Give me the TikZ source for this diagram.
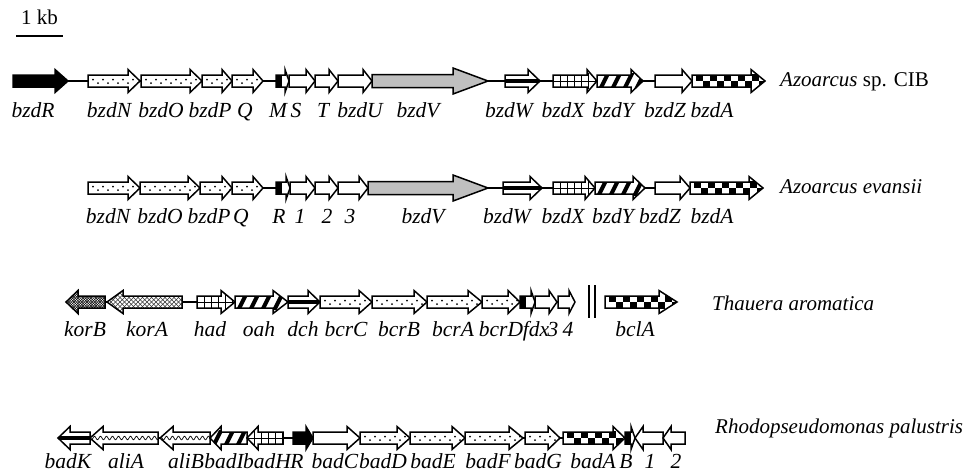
\documentclass[tikz,border=0pt]{standalone}
\usepackage{fontspec}
\setmainfont{Liberation Serif}
\definecolor{vgray}{gray}{0.75}

% body and head half-heights of a gene arrow
\def\gh{6}\def\gH{11.5}
% outline of a gene: start, end, row, head length
\newcommand\rpath[4]{(#1,#3-\gh) -- (#2-#4,#3-\gh) -- (#2-#4,#3-\gH) -- (#2,#3) -- (#2-#4,#3+\gH) -- (#2-#4,#3+\gh) -- (#1,#3+\gh) -- cycle}
\newcommand\lpath[4]{(#2,#3-\gh) -- (#1+#4,#3-\gh) -- (#1+#4,#3-\gH) -- (#1,#3) -- (#1+#4,#3+\gH) -- (#1+#4,#3+\gh) -- (#2,#3+\gh) -- cycle}

% fill patterns (start, end, row)
\newcommand\patwhite[3]{}
\newcommand\patblack[3]{\fill[black] (#1-1,#3-20) rectangle (#2+1,#3+20);}
\newcommand\patgray[3]{\fill[vgray] (#1-1,#3-20) rectangle (#2+1,#3+20);}
\newcommand\patdots[3]{\foreach \k in {0,...,12}{\fill (#1+5+\k*10,#3-1.5) circle[radius=1pt]; \fill (#1+10+\k*10,#3+2) circle[radius=1pt];}}
\newcommand\patgrid[3]{\draw[line width=0.9pt] (#1,#3)--(#2,#3); \foreach \k in {1,...,14}{\draw[line width=0.9pt] (#1+\k*7,#3-8)--(#1+\k*7,#3+8);}}
\newcommand\patdiag[3]{\foreach \k in {0,...,8}{\fill (#1+1+\k*12,#3+8) -- ++(4.5,0) -- ++(8,-16) -- ++(-4.5,0) -- cycle;}}
\newcommand\pathbar[3]{\fill (#1,#3-2) rectangle (#2,#3+2);}
\newcommand\patchecker[3]{\foreach \k in {0,...,6}{\fill (#1+4+\k*14,#3-7) rectangle ++(7,7); \fill (#1+11+\k*14,#3) rectangle ++(7,7);}}
\newcommand\patxdense[3]{\foreach \k in {0,...,40}{\draw[line width=0.5pt] (#1-20+\k*2.6,#3+15) -- ++(30,-30); \draw[line width=0.5pt] (#1-20+\k*2.6,#3-15) -- ++(30,30);}}
\newcommand\patxlight[3]{\foreach \k in {0,...,30}{\draw[line width=0.45pt,black!80] (#1-20+\k*4.5,#3+15) -- ++(30,-30); \draw[line width=0.45pt,black!80] (#1-20+\k*4.5,#3-15) -- ++(30,30);}}
\newcommand\patwave[3]{\draw[line width=0.7pt] plot[domain=#1:#2,samples=90,smooth] (\x,{#3+1.8*sin(\x*60)});}
\newcommand\patsmall[3]{\fill (#1+1,#3-\gh) rectangle (#1+5.5,#3+\gh);}

% one gene: direction (R/L), start, end, row, head length, pattern
\newcommand\gene[6]{%
  \if#1R\def\gp{\rpath{#2}{#3}{#4}{#5}}\else\def\gp{\lpath{#2}{#3}{#4}{#5}}\fi
  \fill[white]\gp;
  \begin{scope}\clip\gp;\csname pat#6\endcsname{#2}{#3}{#4}\end{scope}
  \draw[geneline]\gp;}

\tikzset{
  geneline/.style={line width=1.5pt, line join=miter},
  backbone/.style={line width=1.3pt},
  lab/.style={anchor=base, inner sep=0pt, font=\fontsize{21.5}{24}\selectfont\itshape},
  species/.style={anchor=base west, inner sep=0pt, font=\fontsize{21}{24}\selectfont\itshape},
}

\begin{document}
\begin{tikzpicture}[x=1pt,y=-1pt]
\useasboundingbox (0,0) rectangle (968,472);
\fill[white] (0,0) rectangle (968,472);

% scale bar
\coordinate (sbL) at (16,36);
\coordinate (sbR) at (63,36);
\draw[backbone] (sbL) -- (sbR);
\node[anchor=base, inner sep=0pt, font=\fontsize{21}{24}\selectfont] (sbtext) at (39.5,24) {1 kb};

% ---------- Azoarcus sp. CIB ----------
\coordinate (b1s) at (60,81);
\coordinate (b1e) at (755,81);
\draw[backbone] (b1s) -- (b1e);
\gene{R}{13}{68}{81}{13}{black}
\gene{R}{88}{140}{81}{12}{dots}
\gene{R}{141}{202}{81}{12}{dots}
\gene{R}{202}{232}{81}{10}{dots}
\gene{R}{232}{263}{81}{10}{dots}
\gene{R}{276}{289}{81}{4}{small}
\gene{R}{289}{315}{81}{9}{white}
\gene{R}{315}{338}{81}{9}{white}
\gene{R}{338}{372}{81}{9}{white}
{\def\gh{6.5}\def\gH{13}\gene{R}{372}{488}{81}{35}{gray}}
\gene{R}{505}{540}{81}{12}{hbar}
\gene{R}{553}{597}{81}{10}{grid}
\gene{R}{597}{643}{81}{12}{diag}
\gene{R}{655}{692}{81}{10}{white}
\gene{R}{692}{765}{81}{14}{checker}

\node[lab] (a1) at (33,117) {bzdR};
\node[lab] (a2) at (109,117) {bzdN};
\node[lab] (a3) at (161,117) {bzdO};
\node[lab] (a4) at (210,117) {bzdP};
\node[lab] (a5) at (245,117) {Q};
\node[lab] (a6) at (278,117) {M};
\node[lab] (a7) at (296,117) {S};
\node[lab] (a8) at (323,117) {T};
\node[lab] (a9) at (360,117) {bzdU};
\node[lab] (a10) at (418,117) {bzdV};
\node[lab] (a11) at (509,117) {bzdW};
\node[lab] (a12) at (563,117) {bzdX};
\node[lab] (a13) at (613,117) {bzdY};
\node[lab] (a14) at (665,117) {bzdZ};
\node[lab] (a15) at (712,117) {bzdA};
\node[species] (sp1) at (780,86) {Azoarcus {\upshape sp. CIB}};

% ---------- Azoarcus evansii ----------
\coordinate (b2s) at (95,188);
\coordinate (b2e) at (755,188);
\draw[backbone] (b2s) -- (b2e);
\gene{R}{88}{140}{188}{12}{dots}
\gene{R}{140}{200}{188}{12}{dots}
\gene{R}{200}{232}{188}{10}{dots}
\gene{R}{232}{263}{188}{10}{dots}
\gene{R}{276}{290}{188}{4}{small}
\gene{R}{290}{315}{188}{9}{white}
\gene{R}{315}{338}{188}{9}{white}
\gene{R}{338}{368}{188}{9}{white}
{\def\gh{6.5}\def\gH{13}\gene{R}{368}{488}{188}{35}{gray}}
\gene{R}{503}{542}{188}{12}{hbar}
\gene{R}{553}{595}{188}{10}{grid}
\gene{R}{595}{645}{188}{12}{diag}
\gene{R}{655}{690}{188}{10}{white}
\gene{R}{690}{763}{188}{14}{checker}

\node[lab] (e1) at (108,223) {bzdN};
\node[lab] (e2) at (160,223) {bzdO};
\node[lab] (e3) at (209,223) {bzdP};
\node[lab] (e4) at (241,223) {Q};
\node[lab] (e5) at (279,223) {R};
\node[lab] (e6) at (300,223) {1};
\node[lab] (e7) at (327,223) {2};
\node[lab] (e8) at (350,223) {3};
\node[lab] (e9) at (423,223) {bzdV};
\node[lab] (e10) at (507,223) {bzdW};
\node[lab] (e11) at (563,223) {bzdX};
\node[lab] (e12) at (613,223) {bzdY};
\node[lab] (e13) at (660,223) {bzdZ};
\node[lab] (e14) at (712,223) {bzdA};
\node[species] (sp2) at (780,193) {Azoarcus evansii};

% ---------- Thauera aromatica ----------
\coordinate (b3s) at (70,302);
\coordinate (b3e) at (570,302);
\draw[backbone] (b3s) -- (b3e);
\gene{L}{66}{105}{302}{12}{xdense}
\gene{L}{107}{182}{302}{16}{xlight}
\gene{R}{197}{235}{302}{14}{grid}
\gene{R}{235}{288}{302}{15}{diag}
\gene{R}{288}{320}{302}{12}{hbar}
\gene{R}{320}{372}{302}{13}{dots}
\gene{R}{372}{427}{302}{13}{dots}
\gene{R}{427}{482}{302}{14}{dots}
\gene{R}{482}{520}{302}{12}{dots}
\gene{R}{520}{535}{302}{4}{small}
\gene{R}{535}{557}{302}{8}{white}
\gene{R}{558}{575}{302}{6}{white}
% break in the map
\coordinate (brA1) at (589,285); \coordinate (brA2) at (589,318);
\coordinate (brB1) at (595,285); \coordinate (brB2) at (595,318);
\draw[backbone] (brA1) -- (brA2);
\draw[backbone] (brB1) -- (brB2);
\gene{R}{605}{677}{302}{18}{checker}

\node[lab] (t1) at (85,336) {korB};
\node[lab] (t2) at (147,336) {korA};
\node[lab] (t3) at (210,336) {had};
\node[lab] (t4) at (259,336) {oah};
\node[lab] (t5) at (303,336) {dch};
\node[lab] (t6) at (346,336) {bcrC};
\node[lab] (t7) at (399,336) {bcrB};
\node[lab] (t8) at (453,336) {bcrA};
\node[lab] (t9) at (501,336) {bcrD};
\node[lab] (t10) at (536,336) {fdx};
\node[lab] (t11) at (553,336) {3};
\node[lab] (t12) at (568,336) {4};
\node[lab] (t13) at (635,336) {bclA};
\node[species] (sp3) at (712,310) {Thauera aromatica};

% ---------- Rhodopseudomonas palustris ----------
\coordinate (b4s) at (62,438);
\coordinate (b4e) at (680,438);
\draw[backbone] (b4s) -- (b4e);
\gene{L}{58}{90}{438}{12}{hbar}
\gene{L}{90}{158}{438}{13}{wave}
\gene{L}{160}{210}{438}{13}{wave}
\gene{L}{210}{247}{438}{11}{diag}
\gene{L}{247}{283}{438}{11}{grid}
\gene{R}{293}{313}{438}{7}{black}
\gene{R}{313}{360}{438}{13}{white}
\gene{R}{360}{410}{438}{13}{dots}
\gene{R}{410}{465}{438}{13}{dots}
\gene{R}{465}{523}{438}{14}{dots}
\gene{R}{525}{560}{438}{12}{dots}
\gene{R}{563}{625}{438}{12}{checker}
\gene{R}{625}{635}{438}{4}{small}
\gene{L}{635}{663}{438}{8}{white}
\gene{L}{663}{685}{438}{8}{white}

\node[lab] (r1) at (68,468) {badK};
\node[lab] (r2) at (126,468) {aliA};
\node[lab] (r3) at (186,468) {aliB};
\node[lab] (r4) at (224,468) {badI};
\node[lab] (r5) at (267,468) {badH};
\node[lab] (r6) at (297,468) {R};
\node[lab] (r7) at (335,468) {badC};
\node[lab] (r8) at (383,468) {badD};
\node[lab] (r9) at (433,468) {badE};
\node[lab] (r10) at (488,468) {badF};
\node[lab] (r11) at (538,468) {badG};
\node[lab] (r12) at (593,468) {badA};
\node[lab] (r13) at (626,468) {B};
\node[lab] (r14) at (650,468) {1};
\node[lab] (r15) at (676,468) {2};
\node[species] (sp4) at (715,433) {Rhodopseudomonas palustris};
\end{tikzpicture}
\end{document}
